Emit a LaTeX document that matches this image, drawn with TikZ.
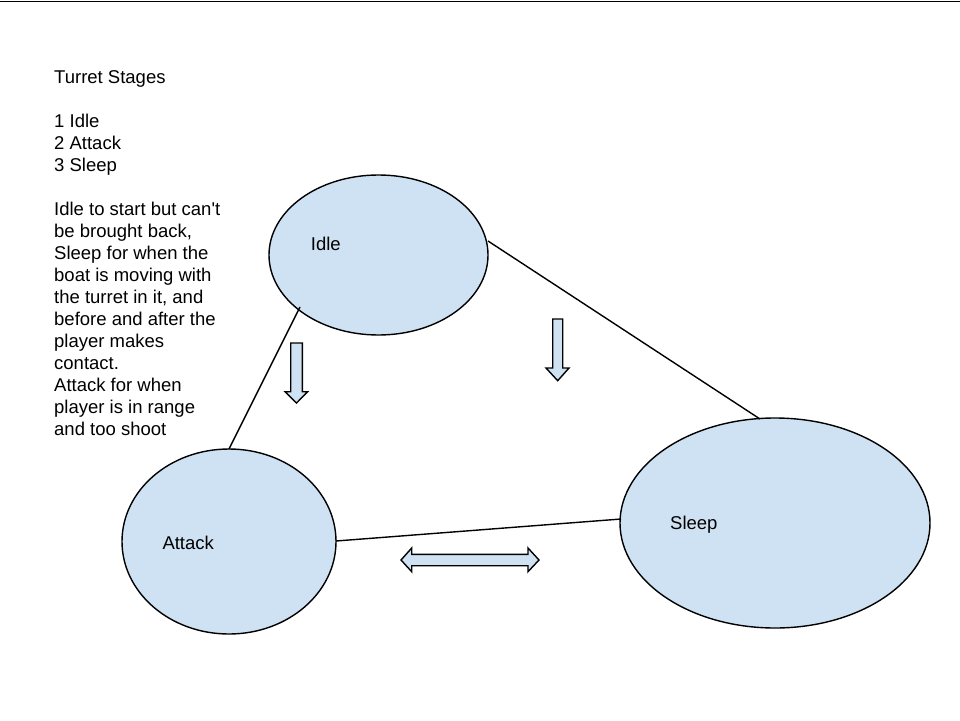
\documentclass[tikz,border=0pt]{standalone}
\usepackage{fontspec}
\setmainfont{Liberation Sans}[Ligatures=TeXOff]
\definecolor{fillblue}{HTML}{CFE2F3}
\begin{document}
\begin{tikzpicture}[x=1pt,y=-1pt,
  lbl/.style={font=\fontsize{18.5}{22}\selectfont,anchor=base west,inner sep=0pt},
  link/.style={draw=black,line width=1.4pt},
  blk/.style={draw=black,line width=1.4pt,fill=fillblue,line join=miter}]
\useasboundingbox (0,0) rectangle (960,720);
\fill[white] (0,0) rectangle (960,720);
\draw[line width=1.4pt] (0,1.5) -- (960,1.5);
% ellipses
\draw[link,fill=fillblue] (378.5,255) ellipse [x radius=109.5,y radius=80];
\draw[link,fill=fillblue] (229,541.5) ellipse [x radius=107,y radius=92.5];
\draw[link,fill=fillblue] (775,523) ellipse [x radius=155,y radius=105];
\coordinate (i1) at (300,307);
\coordinate (a1) at (229,449);
\coordinate (i2) at (488,241);
\coordinate (s1) at (760,419);
\coordinate (a2) at (336,541);
\coordinate (s2) at (621,519);
\draw[link] (i1) -- (a1);
\draw[link] (i2) -- (s1);
\draw[link] (a2) -- (s2);
\node[lbl] (idle) at (310.7,250.7) {Idle};
\node[lbl] (attack) at (162.3,549) {Attack};
\node[lbl] (sleep) at (670,529) {Sleep};
% block arrows
\draw[blk] (290.7,343) -- (302.3,343) -- (302.3,391.7) -- (307.7,391.7) -- (296.5,403) -- (285,391.7) -- (290.7,391.7) -- cycle;
\draw[blk] (552.7,319) -- (562.7,319) -- (562.7,368) -- (569,368) -- (557.7,380.7) -- (546,368) -- (552.7,368) -- cycle;
\draw[blk] (401,560) -- (411.7,548) -- (411.7,554.3) -- (528,554.3) -- (528,548) -- (539,560) -- (528,571.7) -- (528,565.7) -- (411.7,565.7) -- (411.7,571.7) -- cycle;
% notes
\node[font=\fontsize{18.5}{22}\selectfont,align=left,anchor=north west,inner sep=0pt] (notes) at (54,70.1) {Turret Stages\\[22pt]1 Idle\\2 Attack\\3 Sleep\\[22pt]Idle to start but can't\\be brought back,\\Sleep for when the\\boat is moving with\\the turret in it, and\\before and after the\\player makes\\contact.\\Attack for when\\player is in range\\and too shoot};
\end{tikzpicture}
\end{document}
